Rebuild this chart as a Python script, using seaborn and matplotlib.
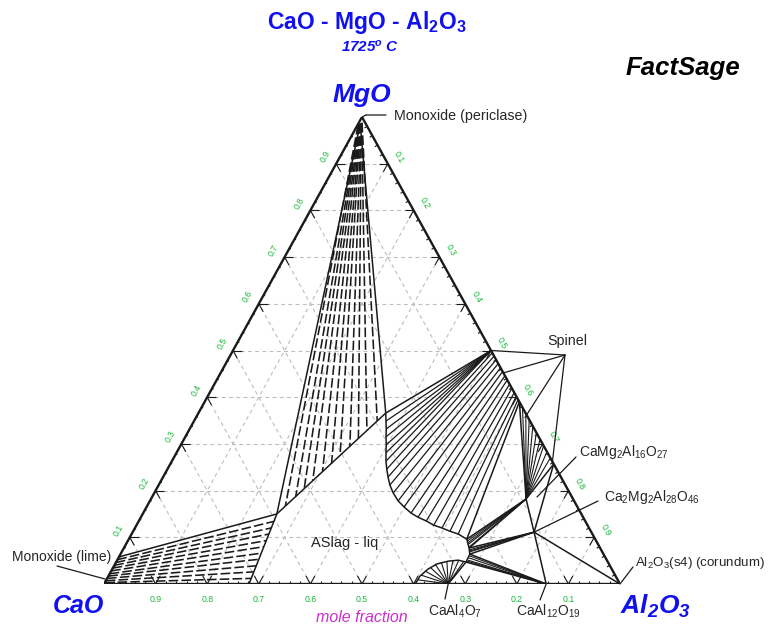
import numpy as np
import pandas as pd
import matplotlib
matplotlib.use("Agg")
import matplotlib.pyplot as plt
from matplotlib.collections import LineCollection
import seaborn as sns

# ---------------- data : compositions as (MgO, Al2O3) mole fractions ----------------
grid_levels = [0.1, 0.2, 0.3, 0.4, 0.5, 0.6, 0.7, 0.8, 0.9]
tick_text = ["0.1", "0.2", "0.3", "0.4", "0.5", "0.6", "0.7", "0.8", "0.9"]

# invariant / compound compositions
periclase_mg, periclase_al = 0.985, 0.004
lime_sat_mg, lime_sat_al = 0.058, 0.0
spinel_mg, spinel_al = 0.50, 0.50
spinel_end1_mg, spinel_end1_al = 0.39, 0.61
spinel_end2_mg, spinel_end2_al = 0.257, 0.743
cm2a8_mg, cm2a8_al = 0.182, 0.727          # CaMg2Al16O27
c2m2a14_mg, c2m2a14_al = 0.111, 0.778      # Ca2Mg2Al28O46
ca6_mg, ca6_al = 0.0, 0.857                # CaAl12O19
ca2_mg, ca2_al = 0.0, 0.667                # CaAl4O7

# liquid (ASlag) boundary, from the CaO-Al2O3 side round to the CaAl4O7 dome
liq_mg = [0.0, 0.150, 0.366, 0.349, 0.332, 0.315, 0.298, 0.281, 0.263, 0.246, 0.229,
          0.212, 0.195, 0.178, 0.165, 0.152, 0.143, 0.135, 0.126, 0.120, 0.113, 0.107,
          0.096, 0.077, 0.064, 0.047, 0.051, 0.049, 0.043, 0.032, 0.017, 0.0]
liq_al = [0.281, 0.260, 0.363, 0.372, 0.381, 0.389, 0.398, 0.406, 0.415, 0.425, 0.436,
          0.448, 0.463, 0.481, 0.499, 0.519, 0.537, 0.557, 0.576, 0.595, 0.614, 0.633,
          0.655, 0.669, 0.677, 0.678, 0.661, 0.643, 0.624, 0.612, 0.604, 0.603]

# tie lines: lime + liquid
lime_tie_sol_mg = [0.003, 0.007, 0.012, 0.017, 0.022, 0.028, 0.034, 0.040, 0.046, 0.052]
lime_tie_liq_mg = [0.012, 0.026, 0.039, 0.053, 0.066, 0.080, 0.093, 0.107, 0.120, 0.134]
lime_tie_liq_al = [0.279, 0.277, 0.276, 0.274, 0.272, 0.270, 0.268, 0.266, 0.264, 0.262]

# tie lines: periclase + liquid
per_tie_sol_mg = [0.983, 0.983, 0.984, 0.984, 0.985, 0.985, 0.986, 0.986, 0.987, 0.987, 0.988]
per_tie_sol_al = [0.001, 0.002, 0.002, 0.003, 0.003, 0.004, 0.004, 0.005, 0.005, 0.006, 0.006]
per_tie_liq_mg = [0.167, 0.187, 0.204, 0.221, 0.241, 0.258, 0.275, 0.295, 0.312, 0.329, 0.349]
per_tie_liq_al = [0.268, 0.278, 0.286, 0.294, 0.303, 0.312, 0.320, 0.329, 0.337, 0.345, 0.355]

# tie lines: spinel + liquid
sp_tie_sol_mg = [0.500, 0.500, 0.500, 0.500, 0.500, 0.500, 0.495, 0.488, 0.480, 0.472,
                 0.463, 0.455, 0.446, 0.437, 0.428, 0.419, 0.410, 0.402, 0.395]
sp_tie_liq_mg = [0.349, 0.332, 0.315, 0.298, 0.281, 0.263, 0.246, 0.229, 0.212, 0.195,
                 0.178, 0.165, 0.152, 0.143, 0.135, 0.126, 0.120, 0.113, 0.107]
sp_tie_liq_al = [0.372, 0.381, 0.389, 0.398, 0.406, 0.415, 0.425, 0.436, 0.448, 0.463,
                 0.481, 0.499, 0.519, 0.537, 0.557, 0.576, 0.595, 0.614, 0.633]

# tie lines: spinel + CaMg2Al16O27
spcm_tie_sol_mg = [0.378, 0.365, 0.352, 0.338, 0.324, 0.310, 0.296, 0.283, 0.270]

# tie lines: liquid + CaMg2Al16O27 / Ca2Mg2Al28O46 / CaAl12O19
cm_tie_liq_mg = [0.092, 0.088, 0.084, 0.079]
cm_tie_liq_al = [0.658, 0.661, 0.663, 0.668]
c2m_tie_liq_mg = [0.073, 0.071, 0.069]
c2m_tie_liq_al = [0.671, 0.674, 0.675]
ca6_tie_liq_mg = [0.060, 0.056, 0.051, 0.049]
ca6_tie_liq_al = [0.679, 0.679, 0.680, 0.679]

# tie lines: CaAl4O7 + liquid (dome)
ca2_tie_liq_mg = [0.009, 0.019, 0.028, 0.036, 0.043, 0.047, 0.049, 0.051, 0.051, 0.049]
ca2_tie_liq_al = [0.604, 0.605, 0.608, 0.614, 0.620, 0.630, 0.640, 0.651, 0.662, 0.673]

# ---------------- style ----------------
sns.set_theme(style="white")
plt.rcParams["font.family"] = ["Liberation Sans", "DejaVu Sans"]
plt.rcParams["mathtext.fontset"] = "custom"
plt.rcParams["mathtext.rm"] = "Liberation Sans"
plt.rcParams["mathtext.it"] = "Liberation Sans:italic"
plt.rcParams["mathtext.bf"] = "Liberation Sans:bold:italic"
plt.rcParams["mathtext.sf"] = "Liberation Sans:bold"

W, H = 769, 625
fig = plt.figure(figsize=(W / 100, H / 100), dpi=100)
fig.patch.set_facecolor("white")
# triangle: CaO (104,584), Al2O3 (620,584), MgO (362,117) in pixels
ax = fig.add_axes([104 / W, (H - 584) / H, 516 / W, 467 / H])
ax.set_xlim(0, 1)
ax.set_ylim(0, 1)
ax.axis("off")


def cart(mg, al):
    mg = np.asarray(mg, float)
    al = np.asarray(al, float)
    return al + mg / 2.0, mg


def px(x, y):
    """pixel position -> axes data coordinates (for text/leader placement)"""
    return (x - 104) / 516.0, (584 - y) / 467.0


def seglines(mg0, al0, mg1, al1, **kw):
    x0, y0 = cart(mg0, al0)
    x1, y1 = cart(mg1, al1)
    x0, y0, x1, y1 = [np.broadcast_to(a, np.broadcast(x0, y0, x1, y1).shape) for a in (x0, y0, x1, y1)]
    segs = [[(a, b), (c, d)] for a, b, c, d in zip(x0.ravel(), y0.ravel(), x1.ravel(), y1.ravel())]
    lc = LineCollection(segs, **kw)
    ax.add_collection(lc)


# grid (dashed, light grey)
gcol = "#bdbdbd"
gls = (0, (3.5, 3))
for v in grid_levels:
    seglines(v, 0, v, 1 - v, color=gcol, lw=0.8, linestyle=gls)        # MgO = v
    seglines(0, v, 1 - v, v, color=gcol, lw=0.8, linestyle=gls)        # Al2O3 = v
    seglines(0, 1 - v, 1 - v, 0, color=gcol, lw=0.8, linestyle=gls)    # CaO = v

# edge ticks
d_major, d_minor = 0.017, 0.007
for v in grid_levels:
    d = d_major
    seglines([0, 0], [v, v], [d, d], [v, v - d], color="k", lw=0.8)
    seglines([v, v], [0, 0], [v, v - d], [d, d], color="k", lw=0.8)
    seglines([1 - v, 1 - v], [v, v], [1 - v, 1 - v - d], [v - d, v], color="k", lw=0.8)
minor = [m for m in np.round(np.arange(0.02, 1.0, 0.02), 2) if abs(m * 10 - round(m * 10)) > 1e-6]
for v in minor:
    d = d_minor
    seglines([0], [v], [d], [v - d / 2], color="k", lw=0.8)
    seglines([v], [0], [v - d / 2], [d / 2], color="k", lw=0.8)
    seglines([1 - v], [v], [1 - v - d / 2], [v - d / 2], color="k", lw=0.8)

# triangle edges
tri = pd.DataFrame({"mg": [0, 0, 1, 0], "al": [0, 1, 0, 0]})
tri["X"], tri["Y"] = cart(tri["mg"], tri["al"])
sns.lineplot(data=tri, x="X", y="Y", sort=False, estimator=None, color="k", lw=1.7, ax=ax)

# dashed tie-lines (lime, periclase)
dash = (0, (6, 2))
seglines(lime_tie_sol_mg, 0.0, lime_tie_liq_mg, lime_tie_liq_al, color="k", lw=1.15, linestyle=dash)
seglines(per_tie_sol_mg, per_tie_sol_al, per_tie_liq_mg, per_tie_liq_al, color="k", lw=1.15, linestyle=dash)

# solid tie lines
seglines(sp_tie_sol_mg, [1 - m for m in sp_tie_sol_mg], sp_tie_liq_mg, sp_tie_liq_al, color="k", lw=0.9)
seglines(spcm_tie_sol_mg, [1 - m for m in spcm_tie_sol_mg], cm2a8_mg, cm2a8_al, color="k", lw=0.8)
seglines(cm2a8_mg, cm2a8_al, cm_tie_liq_mg, cm_tie_liq_al, color="k", lw=0.8)
seglines(c2m2a14_mg, c2m2a14_al, c2m_tie_liq_mg, c2m_tie_liq_al, color="k", lw=0.8)
seglines(ca6_mg, ca6_al, ca6_tie_liq_mg, ca6_tie_liq_al, color="k", lw=0.8)
seglines(ca2_mg, ca2_al, ca2_tie_liq_mg, ca2_tie_liq_al, color="k", lw=0.8)

# liquid boundary
liq = pd.DataFrame({"mg": liq_mg, "al": liq_al})
liq["X"], liq["Y"] = cart(liq["mg"], liq["al"])
sns.lineplot(data=liq, x="X", y="Y", sort=False, estimator=None, color="k", lw=1.1, ax=ax)

# three-phase triangle sides
L1 = (liq_mg[1], liq_al[1]); L2 = (liq_mg[2], liq_al[2])
L3 = (liq_mg[22], liq_al[22]); L4 = (liq_mg[23], liq_al[23])
L5 = (liq_mg[24], liq_al[24]); L6 = (liq_mg[25], liq_al[25])
sides = [
    ((lime_sat_mg, lime_sat_al), L1),
    ((periclase_mg, periclase_al), L1),
    ((periclase_mg, periclase_al), L2),
    ((spinel_mg, spinel_al), L2),
    ((spinel_end1_mg, spinel_end1_al), L3),
    ((spinel_end1_mg, spinel_end1_al), (cm2a8_mg, cm2a8_al)),
    ((cm2a8_mg, cm2a8_al), L3),
    ((cm2a8_mg, cm2a8_al), L4),
    ((c2m2a14_mg, c2m2a14_al), L4),
    ((c2m2a14_mg, c2m2a14_al), L5),
    ((ca6_mg, ca6_al), L5),
    ((ca6_mg, ca6_al), L6),
    ((ca2_mg, ca2_al), L6),
    ((cm2a8_mg, cm2a8_al), (c2m2a14_mg, c2m2a14_al)),
    ((c2m2a14_mg, c2m2a14_al), (ca6_mg, ca6_al)),
    ((cm2a8_mg, cm2a8_al), (spinel_end2_mg, spinel_end2_al)),
    ((c2m2a14_mg, c2m2a14_al), (spinel_end2_mg, spinel_end2_al)),
    ((c2m2a14_mg, c2m2a14_al), (0.0, 1.0)),
]
for a, b in sides:
    seglines(a[0], a[1], b[0], b[1], color="k", lw=1.1)

# ---------------- tick labels ----------------
green = "#18b83a"
tl = dict(textcoords="offset points", ha="center", va="center", fontsize=6.3, color=green,
          annotation_clip=False)
for t in tick_text:
    v = float(t)
    ax.annotate(t, cart(0, 1 - v), xytext=(0, -11), **tl)                      # CaO
    ax.annotate(t, cart(v, 0), xytext=(-8, 5), rotation=61, **tl)             # MgO
    ax.annotate(t, cart(1 - v, v), xytext=(8, 5), rotation=-61, **tl)          # Al2O3

# ---------------- titles ----------------
blue = "#1010f0"
fig.text(367 / W, 1 - 22 / H, r"CaO - MgO - Al$_\mathsf{2}$O$_\mathsf{3}$", ha="center", va="center",
         fontsize=16.5, fontweight="bold", color=blue)
fig.text(370 / W, 1 - 47 / H, r"1725$^\mathbf{o}$ C", ha="center", va="center",
         fontsize=11, fontweight="bold", fontstyle="italic", color=blue)
fig.text(683 / W, 1 - 68 / H, "FactSage", ha="center", va="center",
         fontsize=18.5, fontweight="bold", fontstyle="italic", color="black")
fig.text(362 / W, 1 - 95 / H, "MgO", ha="center", va="center",
         fontsize=19, fontweight="bold", fontstyle="italic", color=blue)
fig.text(78 / W, 1 - 606 / H, "CaO", ha="center", va="center",
         fontsize=18, fontweight="bold", fontstyle="italic", color=blue)
fig.text(655 / W, 1 - 606 / H, r"Al$_\mathbf{2}$O$_\mathbf{3}$", ha="center", va="center",
         fontsize=19, fontweight="bold", fontstyle="italic", color=blue)
fig.text(362 / W, 1 - 617 / H, "mole fraction", ha="center", va="center",
         fontsize=11.5, fontstyle="italic", color="#cc30cc")

# ---------------- phase labels and leaders ----------------
fs = 10
lp = dict(arrowstyle="-", color="k", lw=0.9, shrinkA=0, shrinkB=0)


def leader(xy, xytext):
    ax.annotate("", xy=xy, xytext=xytext, arrowprops=lp, annotation_clip=False)


leader(cart(1, 0), px(366, 115))
leader(px(366, 115), px(386, 115))
ax.text(*px(394, 116), "Monoxide (periclase)", ha="left", va="center", fontsize=10.3)
ax.text(*px(12, 557), "Monoxide (lime)", ha="left", va="center", fontsize=fs)
leader(px(105, 579), px(57, 566))

ax.text(*px(567, 341), "Spinel", ha="center", va="center", fontsize=10.3)
for m in [spinel_mg, 0.452, 0.362, 0.262]:
    leader(cart(m, 1 - m), px(565, 355))

ax.text(*px(579, 452), r"CaMg$_2$Al$_{16}$O$_{27}$", ha="left", va="center", fontsize=fs)
leader(px(537, 497), px(576, 457))
ax.text(*px(604, 497), r"Ca$_2$Mg$_2$Al$_{28}$O$_{46}$", ha="left", va="center", fontsize=fs)
leader(cart(c2m2a14_mg, c2m2a14_al), px(598, 501))
ax.text(*px(635, 563), r"Al$_2$O$_3$(s4) (corundum)", ha="left", va="center", fontsize=9.6)
leader(cart(0, 1), px(633, 567))
ax.text(*px(455, 611), r"CaAl$_4$O$_7$", ha="center", va="center", fontsize=fs)
leader(cart(ca2_mg, ca2_al), px(445, 599))
ax.text(*px(548, 611), r"CaAl$_{12}$O$_{19}$", ha="center", va="center", fontsize=fs)
leader(cart(ca6_mg, ca6_al), px(540, 600))
ax.text(*px(345, 543), "ASlag - liq", ha="center", va="center", fontsize=10.5)

fig.savefig("out.png", dpi=100, facecolor="white")
